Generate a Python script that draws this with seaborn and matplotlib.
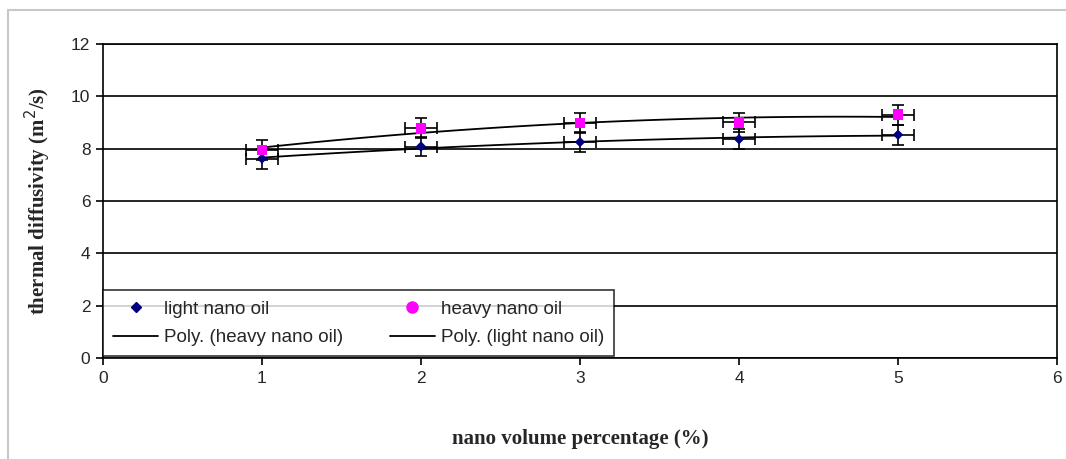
import numpy as np
import pandas as pd
import matplotlib.pyplot as plt
from matplotlib.lines import Line2D
import seaborn as sns

volume_pct = [1, 2, 3, 4, 5]
light_oil = [7.62, 8.08, 8.25, 8.36, 8.53]
heavy_oil = [7.95, 8.78, 8.98, 9.0, 9.3]
y_err = 0.38
x_err = 0.1

df = pd.DataFrame({"x": volume_pct, "light": light_oil, "heavy": heavy_oil})

sns.set_style("white")
plt.rcParams["font.family"] = ["Liberation Sans", "DejaVu Sans"]

fig = plt.figure(figsize=(10.66, 4.59), dpi=100)
ax = fig.add_axes([0.0966, 0.22, 0.895, 0.6843])

# polynomial trendlines (order 2, like Excel's "Poly.")
sns.regplot(data=df, x="x", y="heavy", order=2, ci=None, scatter=False, ax=ax,
            line_kws={"color": "black", "lw": 1.3, "zorder": 3})
sns.regplot(data=df, x="x", y="light", order=2, ci=None, scatter=False, ax=ax,
            line_kws={"color": "black", "lw": 1.3, "zorder": 3})

ax.errorbar(df["x"], df["light"], xerr=x_err, yerr=y_err, fmt="none",
            ecolor="black", elinewidth=1.2, capsize=4, capthick=1.2, zorder=4)
ax.errorbar(df["x"], df["heavy"], xerr=x_err, yerr=y_err, fmt="none",
            ecolor="black", elinewidth=1.2, capsize=4, capthick=1.2, zorder=4)

sns.scatterplot(data=df, x="x", y="light", marker="D", color="#000080", s=28,
                edgecolor="none", ax=ax, zorder=5)
sns.scatterplot(data=df, x="x", y="heavy", marker="s", color="#FF00FF", s=60,
                edgecolor="none", ax=ax, zorder=5)

ax.set_xlim(0, 6)
ax.set_ylim(0, 12)
ax.set_xticks(range(0, 7))
ax.set_yticks(range(0, 13, 2))
ax.yaxis.grid(True, color="black", lw=1.2)
ax.set_axisbelow(True)
for s in ax.spines.values():
    s.set_color("black")
    s.set_linewidth(1.2)
ax.tick_params(axis="both", direction="out", length=5, width=1.2, color="black",
               labelsize=12.5, pad=4, bottom=True, left=True)

ax.set_xlabel("nano volume percentage (%)", family="Liberation Serif",
              fontweight="bold", fontsize=15, labelpad=31)
ax.set_ylabel("thermal diffusivity (m$^2$/s)", family="Liberation Serif",
              fontweight="bold", fontsize=15, labelpad=13)

handles = [
    Line2D([], [], marker="D", color="#000080", ls="none", markersize=5),
    Line2D([], [], color="black", lw=1.3),
    Line2D([], [], marker="o", color="#FF00FF", ls="none", markersize=8),
    Line2D([], [], color="black", lw=1.3),
]
labels = ["light nano oil", "Poly. (heavy nano oil)", "heavy nano oil", "Poly. (light nano oil)"]
leg = ax.legend(handles, labels, ncol=2, loc="lower left", bbox_to_anchor=(0.0, 0.005),
                borderaxespad=0, frameon=True, fancybox=False, edgecolor="black",
                fontsize=13.5, columnspacing=2.5, handlelength=2.4, handletextpad=0.3,
                borderpad=0.55, labelspacing=0.6)
leg.get_frame().set_linewidth(1.2)

# light grey frame on top and left of the picture
fig.add_artist(Line2D([0.0075, 1.0], [0.978, 0.978], transform=fig.transFigure,
                      color="#c8c8c8", lw=1.5))
fig.add_artist(Line2D([0.0075, 0.0075], [0.0, 0.978], transform=fig.transFigure,
                      color="#c8c8c8", lw=1.5))

fig.savefig("out.png", dpi=100)
